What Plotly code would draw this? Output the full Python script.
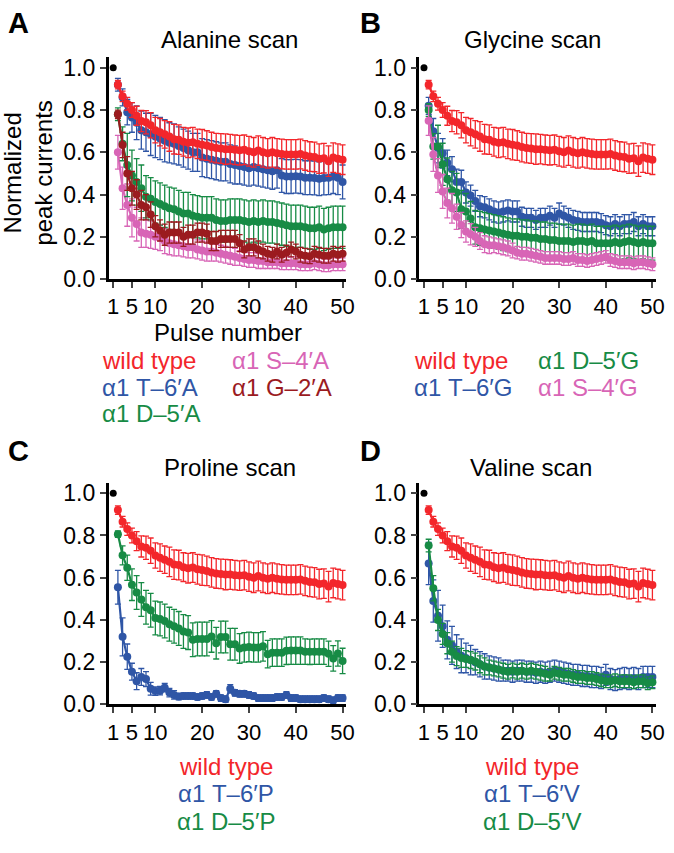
import plotly.graph_objects as go

W, H = 674, 853

# ---------------- data (pulses 2..50; pulse 1 normalised to 1.0) ----------------
pulses = list(range(2, 51))
first_pulse = [1]
first_value = [1.0]

x_ticks = [1, 5, 10, 20, 30, 40, 50]
y_ticks = [0.0, 0.2, 0.4, 0.6, 0.8, 1.0]
y_ticklabels = ["0.0", "0.2", "0.4", "0.6", "0.8", "1.0"]

wild_type = [0.92, 0.865, 0.83, 0.80, 0.773, 0.748, 0.742, 0.728, 0.705, 0.695,
             0.685, 0.675, 0.662, 0.66, 0.65, 0.645, 0.648, 0.64, 0.636, 0.632,
             0.625, 0.62, 0.618, 0.615, 0.615, 0.612, 0.61, 0.612, 0.605, 0.60,
             0.608, 0.60, 0.595, 0.60, 0.595, 0.592, 0.59, 0.59, 0.59, 0.592,
             0.585, 0.58, 0.578, 0.57, 0.572, 0.558, 0.575, 0.57, 0.565]
wild_type_err = [0.02, 0.025, 0.03, 0.035, 0.045, 0.05, 0.055, 0.06, 0.06, 0.065,
                 0.065, 0.07, 0.07, 0.07, 0.068, 0.07, 0.07, 0.07, 0.072, 0.07,
                 0.07, 0.07, 0.07, 0.072, 0.07, 0.07, 0.07, 0.07, 0.07, 0.07,
                 0.07, 0.07, 0.07, 0.07, 0.07, 0.07, 0.07, 0.07, 0.07, 0.07,
                 0.07, 0.07, 0.07, 0.07, 0.07, 0.072, 0.07, 0.07, 0.07]

# Alanine scan
ala_T6 = [0.92, 0.86, 0.79, 0.765, 0.74, 0.705, 0.695, 0.685, 0.675, 0.665,
          0.655, 0.645, 0.64, 0.63, 0.62, 0.61, 0.60, 0.60, 0.575, 0.57,
          0.565, 0.56, 0.555, 0.555, 0.545, 0.54, 0.535, 0.53, 0.525, 0.53,
          0.525, 0.52, 0.515, 0.51, 0.515, 0.49, 0.485, 0.485, 0.487, 0.485,
          0.48, 0.48, 0.478, 0.475, 0.478, 0.48, 0.485, 0.48, 0.46]
ala_T6_err = [0.03, 0.04, 0.06, 0.07, 0.08, 0.09, 0.09, 0.1, 0.1, 0.1,
              0.1, 0.095, 0.095, 0.09, 0.09, 0.09, 0.09, 0.09, 0.09, 0.09,
              0.09, 0.09, 0.09, 0.09, 0.09, 0.09, 0.085, 0.085, 0.085, 0.085,
              0.085, 0.085, 0.085, 0.085, 0.085, 0.08, 0.08, 0.08, 0.08, 0.08,
              0.08, 0.08, 0.08, 0.08, 0.08, 0.08, 0.08, 0.08, 0.08]
ala_D5 = [0.78, 0.64, 0.54, 0.49, 0.46, 0.43, 0.39, 0.38, 0.365, 0.355,
          0.345, 0.335, 0.33, 0.32, 0.31, 0.31, 0.30, 0.295, 0.29, 0.29,
          0.29, 0.28, 0.275, 0.275, 0.28, 0.28, 0.28, 0.275, 0.27, 0.275,
          0.27, 0.275, 0.27, 0.27, 0.265, 0.26, 0.255, 0.25, 0.25, 0.25,
          0.245, 0.24, 0.24, 0.245, 0.235, 0.24, 0.245, 0.245, 0.245]
ala_D5_err = [0.03, 0.08, 0.15, 0.12, 0.11, 0.11, 0.1, 0.1, 0.1, 0.1,
              0.1, 0.1, 0.1, 0.1, 0.1, 0.1, 0.1, 0.1, 0.1, 0.1,
              0.1, 0.1, 0.1, 0.1, 0.1, 0.1, 0.1, 0.1, 0.1, 0.1,
              0.1, 0.1, 0.1, 0.1, 0.1, 0.1, 0.1, 0.1, 0.1, 0.1,
              0.1, 0.1, 0.1, 0.1, 0.1, 0.1, 0.1, 0.1, 0.1]
ala_S4 = [0.60, 0.43, 0.35, 0.29, 0.26, 0.22, 0.215, 0.21, 0.20, 0.195,
          0.18, 0.17, 0.165, 0.16, 0.155, 0.15, 0.15, 0.14, 0.135, 0.13,
          0.13, 0.125, 0.12, 0.115, 0.11, 0.105, 0.10, 0.095, 0.09, 0.09,
          0.085, 0.085, 0.08, 0.08, 0.08, 0.075, 0.075, 0.075, 0.075, 0.07,
          0.07, 0.07, 0.075, 0.07, 0.065, 0.065, 0.07, 0.07, 0.07]
ala_S4_err = [0.08, 0.1, 0.1, 0.09, 0.08, 0.07, 0.065, 0.065, 0.06, 0.06,
              0.06, 0.055, 0.055, 0.05, 0.05, 0.05, 0.05, 0.045, 0.045, 0.045,
              0.045, 0.04, 0.04, 0.04, 0.04, 0.04, 0.035, 0.035, 0.035, 0.035,
              0.035, 0.035, 0.03, 0.03, 0.03, 0.03, 0.03, 0.03, 0.03, 0.03,
              0.03, 0.03, 0.03, 0.03, 0.03, 0.03, 0.03, 0.03, 0.03]
ala_G2 = [0.78, 0.635, 0.50, 0.43, 0.40, 0.35, 0.34, 0.305, 0.25, 0.23,
          0.21, 0.22, 0.22, 0.22, 0.20, 0.21, 0.21, 0.22, 0.22, 0.215,
          0.18, 0.18, 0.19, 0.19, 0.19, 0.19, 0.17, 0.14, 0.15, 0.15,
          0.14, 0.13, 0.12, 0.115, 0.13, 0.115, 0.125, 0.14, 0.13, 0.115,
          0.11, 0.108, 0.12, 0.115, 0.11, 0.11, 0.12, 0.115, 0.12]
ala_G2_err = [0.02, 0.06, 0.08, 0.08, 0.07, 0.07, 0.06, 0.06, 0.05, 0.05,
              0.05, 0.05, 0.05, 0.05, 0.045, 0.045, 0.045, 0.045, 0.045, 0.045,
              0.045, 0.045, 0.04, 0.04, 0.04, 0.04, 0.04, 0.04, 0.04, 0.04,
              0.04, 0.035, 0.035, 0.035, 0.035, 0.035, 0.035, 0.035, 0.035, 0.035,
              0.035, 0.035, 0.035, 0.035, 0.035, 0.035, 0.035, 0.035, 0.035]

# Glycine scan
gly_T6 = [0.82, 0.70, 0.62, 0.595, 0.55, 0.52, 0.46, 0.46, 0.41, 0.395,
          0.37, 0.345, 0.34, 0.33, 0.32, 0.315, 0.32, 0.325, 0.32, 0.32,
          0.295, 0.29, 0.29, 0.28, 0.29, 0.29, 0.30, 0.29, 0.31, 0.30,
          0.29, 0.28, 0.275, 0.27, 0.27, 0.27, 0.27, 0.265, 0.255, 0.25,
          0.26, 0.25, 0.26, 0.26, 0.27, 0.25, 0.26, 0.25, 0.25]
gly_T6_err = [0.04, 0.06, 0.07, 0.07, 0.06, 0.06, 0.06, 0.055, 0.05, 0.05,
              0.05, 0.05, 0.05, 0.05, 0.05, 0.05, 0.05, 0.05, 0.05, 0.05,
              0.045, 0.045, 0.045, 0.045, 0.045, 0.045, 0.045, 0.045, 0.05, 0.045,
              0.045, 0.045, 0.045, 0.045, 0.045, 0.045, 0.045, 0.045, 0.045, 0.045,
              0.045, 0.045, 0.045, 0.045, 0.045, 0.045, 0.045, 0.045, 0.045]
gly_D5 = [0.80, 0.628, 0.628, 0.543, 0.473, 0.42, 0.41, 0.33, 0.32, 0.287,
          0.245, 0.24, 0.235, 0.23, 0.225, 0.22, 0.215, 0.21, 0.205, 0.205,
          0.20, 0.20, 0.195, 0.195, 0.19, 0.19, 0.185, 0.185, 0.18, 0.18,
          0.18, 0.175, 0.18, 0.18, 0.175, 0.18, 0.17, 0.17, 0.17, 0.17,
          0.175, 0.17, 0.175, 0.18, 0.175, 0.17, 0.175, 0.17, 0.17]
gly_D5_err = [0.03, 0.06, 0.1, 0.1, 0.1, 0.09, 0.09, 0.09, 0.085, 0.08,
              0.08, 0.08, 0.08, 0.08, 0.08, 0.08, 0.08, 0.08, 0.08, 0.08,
              0.08, 0.08, 0.08, 0.08, 0.08, 0.08, 0.08, 0.08, 0.08, 0.08,
              0.08, 0.08, 0.08, 0.08, 0.08, 0.08, 0.08, 0.08, 0.08, 0.08,
              0.08, 0.08, 0.08, 0.08, 0.08, 0.08, 0.08, 0.08, 0.08]
gly_S4 = [0.75, 0.59, 0.49, 0.415, 0.36, 0.335, 0.295, 0.256, 0.225, 0.212,
          0.20, 0.18, 0.165, 0.16, 0.16, 0.155, 0.15, 0.145, 0.135, 0.125,
          0.12, 0.12, 0.115, 0.11, 0.105, 0.10, 0.10, 0.10, 0.10, 0.095,
          0.095, 0.10, 0.09, 0.09, 0.085, 0.09, 0.095, 0.10, 0.105, 0.09,
          0.085, 0.08, 0.08, 0.08, 0.075, 0.08, 0.08, 0.075, 0.07]
gly_S4_err = [0.07, 0.08, 0.08, 0.08, 0.07, 0.07, 0.06, 0.06, 0.05, 0.05,
              0.045, 0.04, 0.04, 0.04, 0.035, 0.035, 0.035, 0.035, 0.035, 0.03,
              0.03, 0.03, 0.03, 0.03, 0.03, 0.03, 0.03, 0.03, 0.03, 0.03,
              0.03, 0.03, 0.03, 0.03, 0.03, 0.03, 0.03, 0.03, 0.03, 0.03,
              0.03, 0.03, 0.03, 0.03, 0.03, 0.03, 0.03, 0.03, 0.03]

# Proline scan
pro_T6 = [0.555, 0.32, 0.226, 0.155, 0.11, 0.13, 0.12, 0.074, 0.063, 0.065,
          0.079, 0.056, 0.045, 0.037, 0.04, 0.04, 0.04, 0.035, 0.04, 0.045,
          0.035, 0.05, 0.03, 0.025, 0.074, 0.055, 0.05, 0.05, 0.045, 0.04,
          0.03, 0.03, 0.03, 0.03, 0.035, 0.035, 0.045, 0.03, 0.03, 0.025,
          0.025, 0.025, 0.025, 0.025, 0.03, 0.025, 0.02, 0.03, 0.03]
pro_T6_err = [0.08, 0.09, 0.06, 0.04, 0.04, 0.04, 0.035, 0.03, 0.02, 0.02,
              0.02, 0.02, 0.02, 0.015, 0.015, 0.015, 0.015, 0.015, 0.015, 0.015,
              0.015, 0.015, 0.015, 0.015, 0.02, 0.015, 0.015, 0.015, 0.015, 0.015,
              0.015, 0.015, 0.015, 0.015, 0.015, 0.015, 0.015, 0.015, 0.015, 0.015,
              0.015, 0.015, 0.015, 0.015, 0.015, 0.015, 0.015, 0.015, 0.015]
pro_D5 = [0.806, 0.706, 0.647, 0.567, 0.53, 0.497, 0.46, 0.446, 0.409, 0.405,
          0.395, 0.38, 0.37, 0.36, 0.345, 0.34, 0.306, 0.31, 0.31, 0.31,
          0.322, 0.29, 0.319, 0.319, 0.285, 0.285, 0.265, 0.27, 0.272, 0.27,
          0.27, 0.275, 0.238, 0.245, 0.245, 0.245, 0.254, 0.255, 0.255, 0.255,
          0.25, 0.249, 0.25, 0.25, 0.25, 0.24, 0.218, 0.241, 0.206]
pro_D5_err = [0.015, 0.045, 0.06, 0.075, 0.08, 0.08, 0.08, 0.08, 0.08, 0.08,
              0.08, 0.08, 0.08, 0.08, 0.08, 0.08, 0.08, 0.08, 0.08, 0.08,
              0.075, 0.075, 0.075, 0.075, 0.075, 0.075, 0.07, 0.07, 0.07, 0.07,
              0.07, 0.07, 0.065, 0.065, 0.065, 0.065, 0.065, 0.065, 0.065, 0.065,
              0.06, 0.06, 0.06, 0.06, 0.06, 0.06, 0.06, 0.06, 0.06]

# Valine scan
val_T6 = [0.667, 0.49, 0.42, 0.37, 0.306, 0.28, 0.25, 0.23, 0.22, 0.21,
          0.20, 0.19, 0.18, 0.175, 0.17, 0.165, 0.16, 0.16, 0.155, 0.16,
          0.16, 0.155, 0.155, 0.15, 0.155, 0.15, 0.155, 0.16, 0.155, 0.15,
          0.145, 0.14, 0.14, 0.135, 0.135, 0.13, 0.13, 0.125, 0.14, 0.12,
          0.115, 0.12, 0.125, 0.12, 0.125, 0.12, 0.13, 0.13, 0.13]
val_T6_err = [0.1, 0.1, 0.12, 0.1, 0.09, 0.09, 0.08, 0.08, 0.07, 0.07,
              0.06, 0.06, 0.06, 0.055, 0.055, 0.055, 0.05, 0.05, 0.05, 0.05,
              0.05, 0.05, 0.05, 0.05, 0.05, 0.05, 0.05, 0.05, 0.05, 0.05,
              0.05, 0.05, 0.05, 0.05, 0.05, 0.05, 0.05, 0.05, 0.05, 0.05,
              0.05, 0.05, 0.05, 0.05, 0.05, 0.05, 0.05, 0.05, 0.05]
val_D5 = [0.752, 0.55, 0.40, 0.334, 0.29, 0.25, 0.229, 0.22, 0.215, 0.21,
          0.203, 0.19, 0.18, 0.175, 0.17, 0.165, 0.16, 0.155, 0.161, 0.155,
          0.16, 0.155, 0.16, 0.155, 0.15, 0.145, 0.141, 0.15, 0.145, 0.14,
          0.14, 0.135, 0.13, 0.13, 0.125, 0.125, 0.12, 0.115, 0.11, 0.11,
          0.115, 0.11, 0.11, 0.11, 0.105, 0.11, 0.11, 0.10, 0.105]
val_D5_err = [0.03, 0.06, 0.05, 0.05, 0.05, 0.05, 0.045, 0.045, 0.04, 0.04,
              0.04, 0.04, 0.04, 0.035, 0.035, 0.035, 0.035, 0.035, 0.035, 0.035,
              0.035, 0.035, 0.035, 0.035, 0.035, 0.035, 0.03, 0.03, 0.03, 0.03,
              0.03, 0.03, 0.03, 0.03, 0.03, 0.03, 0.03, 0.03, 0.03, 0.03,
              0.03, 0.03, 0.03, 0.03, 0.03, 0.03, 0.03, 0.03, 0.03]

for arr in [wild_type, wild_type_err, ala_T6, ala_T6_err, ala_D5, ala_D5_err, ala_S4, ala_S4_err,
            ala_G2, ala_G2_err, gly_T6, gly_T6_err, gly_D5, gly_D5_err, gly_S4, gly_S4_err,
            pro_T6, pro_T6_err, pro_D5, pro_D5_err, val_T6, val_T6_err, val_D5, val_D5_err]:
    assert len(arr) == len(pulses), len(arr)

# ---------------- styling ----------------
RED = "#f3262b"
BLUE = "#2f56a6"
GREEN = "#178b45"
PINK = "#d865b6"
DRED = "#9b1b1f"
FONT = "Liberation Sans, Arial, sans-serif"

def px(x):
    return x / W

def py(y):
    return (H - y) / H

# panel geometry (pixels)
XL = {"A": (109, 350), "B": (424, 664), "C": (109, 350), "D": (424, 664)}
YB = {"A": (282, 56.25), "B": (282, 56.25), "C": (715, 489.25), "D": (715, 489.25)}
axis_ids = {"A": ("x", "y"), "B": ("x2", "y2"), "C": ("x3", "y3"), "D": ("x4", "y4")}

fig = go.Figure()

def add_series(panel, y, err, color):
    xa, ya = axis_ids[panel]
    fig.add_trace(go.Scatter(
        x=pulses, y=y, mode="lines+markers", xaxis=xa, yaxis=ya,
        line=dict(color=color, width=2.2),
        marker=dict(color=color, size=8),
        error_y=dict(type="data", array=err, color=color, thickness=1.3, width=3),
        showlegend=False, cliponaxis=False))

def add_first(panel):
    xa, ya = axis_ids[panel]
    fig.add_trace(go.Scatter(x=first_pulse, y=first_value, mode="markers", xaxis=xa, yaxis=ya,
                             marker=dict(color="black", size=7), showlegend=False, cliponaxis=False))

# A
add_series("A", ala_S4, ala_S4_err, PINK)
add_series("A", ala_D5, ala_D5_err, GREEN)
add_series("A", ala_G2, ala_G2_err, DRED)
add_series("A", ala_T6, ala_T6_err, BLUE)
add_series("A", wild_type, wild_type_err, RED)
add_first("A")
# B
add_series("B", gly_T6, gly_T6_err, BLUE)
add_series("B", gly_D5, gly_D5_err, GREEN)
add_series("B", gly_S4, gly_S4_err, PINK)
add_series("B", wild_type, wild_type_err, RED)
add_first("B")
# C
add_series("C", pro_T6, pro_T6_err, BLUE)
add_series("C", pro_D5, pro_D5_err, GREEN)
add_series("C", wild_type, wild_type_err, RED)
add_first("C")
# D
add_series("D", val_T6, val_T6_err, BLUE)
add_series("D", val_D5, val_D5_err, GREEN)
add_series("D", wild_type, wild_type_err, RED)
add_first("D")

layout = dict(
    width=W, height=H, autosize=False,
    margin=dict(l=0, r=0, t=0, b=0),
    paper_bgcolor="white", plot_bgcolor="white",
    font=dict(family=FONT, color="black", size=23),
    showlegend=False,
)

for i, panel in enumerate(["A", "B", "C", "D"]):
    sfx = "" if i == 0 else str(i + 1)
    xa, ya = axis_ids[panel]
    x0, x1 = XL[panel]
    yb, yt = YB[panel]
    layout["xaxis" + sfx] = dict(
        domain=[px(x0), px(x1)], range=[0, 50.8], anchor=ya,
        tickmode="array", tickvals=x_ticks, ticks="outside", ticklen=6, tickwidth=2,
        showline=True, linecolor="black", linewidth=2.5, showgrid=False, zeroline=False,
        ticklabeloverflow="allow",
        tickfont=dict(size=22, family=FONT, color="black"))
    layout["yaxis" + sfx] = dict(
        domain=[py(yb), py(yt)], range=[0, 1.05], anchor=xa,
        tickmode="array", tickvals=y_ticks, ticktext=y_ticklabels,
        ticks="outside", ticklen=6, tickwidth=2,
        showline=True, linecolor="black", linewidth=2.5, showgrid=False, zeroline=False,
        tickfont=dict(size=23, family=FONT, color="black"))

fig.update_layout(**layout)

def note(text, x, y, size=24, color="black", bold=False, xanchor="center", angle=0):
    if bold:
        text = "<b>" + text + "</b>"
    fig.add_annotation(text=text, x=px(x), y=py(y), xref="paper", yref="paper",
                       xanchor=xanchor, yanchor="middle", showarrow=False, textangle=angle,
                       font=dict(size=size, color=color, family=FONT))

# panel letters
note("A", 5, 21, size=29, bold=True, xanchor="left")
note("B", 362, 21, size=29, bold=True, xanchor="left")
note("C", 5, 457, size=29, bold=True, xanchor="left")
note("D", 362, 457, size=29, bold=True, xanchor="left")

# titles
note("Alanine scan", 232, 38)
note("Glycine scan", 539, 38)
note("Proline scan", 232, 474)
note("Valine scan", 537, 474)

# axis titles
note("Normalized<br>peak currents", 27, 174, size=24, angle=-90)
note("Pulse number", 230, 336)

# legends
note("wild type", 100, 365, color=RED, xanchor="left")
note("α1 T–6′A", 100, 392, color=BLUE, xanchor="left")
note("α1 D–5′A", 100, 419, color=GREEN, xanchor="left")
note("α1 S–4′A", 232, 365, color=PINK, xanchor="left")
note("α1 G–2′A", 232, 392, color=DRED, xanchor="left")

note("wild type", 417, 365, color=RED, xanchor="left")
note("α1 T–6′G", 417, 392, color=BLUE, xanchor="left")
note("α1 D–5′G", 542, 365, color=GREEN, xanchor="left")
note("α1 S–4′G", 542, 392, color=PINK, xanchor="left")

note("wild type", 228, 778, color=RED)
note("α1 T–6′P", 228, 806, color=BLUE)
note("α1 D–5′P", 228, 834, color=GREEN)

note("wild type", 538, 778, color=RED)
note("α1 T–6′V", 538, 806, color=BLUE)
note("α1 D–5′V", 538, 834, color=GREEN)

fig.write_html("out.html", config={"displayModeBar": False},
               post_script="document.body.style.margin='0';document.documentElement.style.overflow='hidden';")
